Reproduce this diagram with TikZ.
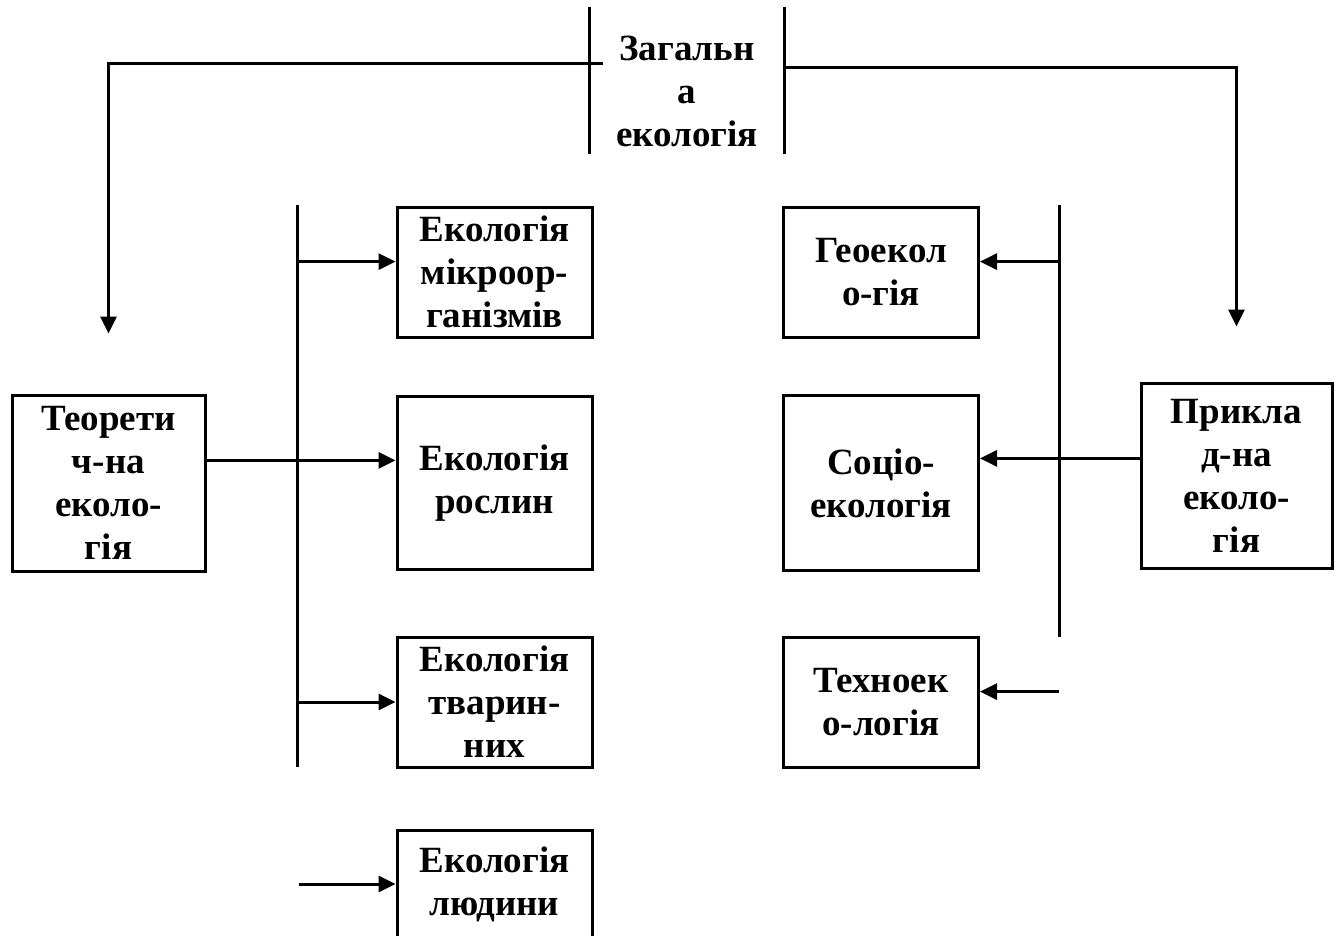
\documentclass[tikz,border=0pt]{standalone}
\usepackage{fontspec}
\setmainfont{Liberation Serif}
\usetikzlibrary{arrows.meta}
\begin{document}
\begin{tikzpicture}[x=1pt,y=-1pt,line width=3pt,
	every node/.style={inner sep=0pt,align=center,font=\fontsize{37}{43}\selectfont\bfseries},
	box/.style={draw,minimum width=195pt},
	arr/.style={-{Triangle[length=17pt,width=16pt]}}]
	\useasboundingbox (0,0) rectangle (1336,935);
	\path
	(687,80) node[minimum width=192pt,minimum height=144pt](zag){}
	(687,91) node(zagt){Загальн\\а\\екологія}
	(108.5,483) node[box,minimum width=193pt,minimum height=176pt](teor){Теорети\\ч-на\\еколо-\\гія}
	(1236.5,475.5) node[box,minimum width=191pt,minimum height=185pt](prykl){Прикла\\д-на\\еколо-\\гія}
	(494.5,272) node[box,minimum height=130pt](e1){Екологія\\мікроор-\\ганізмів}
	(494.5,483) node[box,minimum height=173pt](e2){Екологія\\рослин}
	(494.5,702) node[box,minimum height=130pt](e3){Екологія\\тварин-\\них}
	(494.5,884) node[box,minimum height=108pt](e4){Екологія\\людини}
	(881,272) node[box,minimum height=130pt](g1){Геоекол\\о-гія}
	(881,483) node[box,minimum height=175pt](g2){Соціо-\\екологія}
	(881,702) node[box,minimum height=130pt](g3){Техноек\\о-логія}
	(297,205) coordinate(l1) (297,767) coordinate(l2)
	(1059,205) coordinate(r1) (1059,637) coordinate(r2);
	\draw (zag.north west)--(zag.south west) (zag.north east)--(zag.south east)
	(l1)--(l2) (r1)--(r2);
	\draw[arr] ([xshift=13pt,yshift=17pt]zag.west) -| ([yshift=60pt]teor.north);
	\draw[arr] ([yshift=13pt]zag.east) -| ([yshift=55pt]prykl.north);
	\draw[arr] (l1|-e1.174)--(e1.174);
	\draw[arr] (teor.13)--(teor.13-|e2.west);
	\draw[arr] (l1|-e3.west)--(e3.west);
	\draw[arr] ([xshift=2pt]l1|-e4.west)--(e4.west);
	\draw[arr] (r1|-g1.6)--(g1.6);
	\draw[arr] (prykl.170)--(prykl.170-|g2.east);
	\draw[arr] (r1|-g3.6)--(g3.6);
\end{tikzpicture}
\end{document}
